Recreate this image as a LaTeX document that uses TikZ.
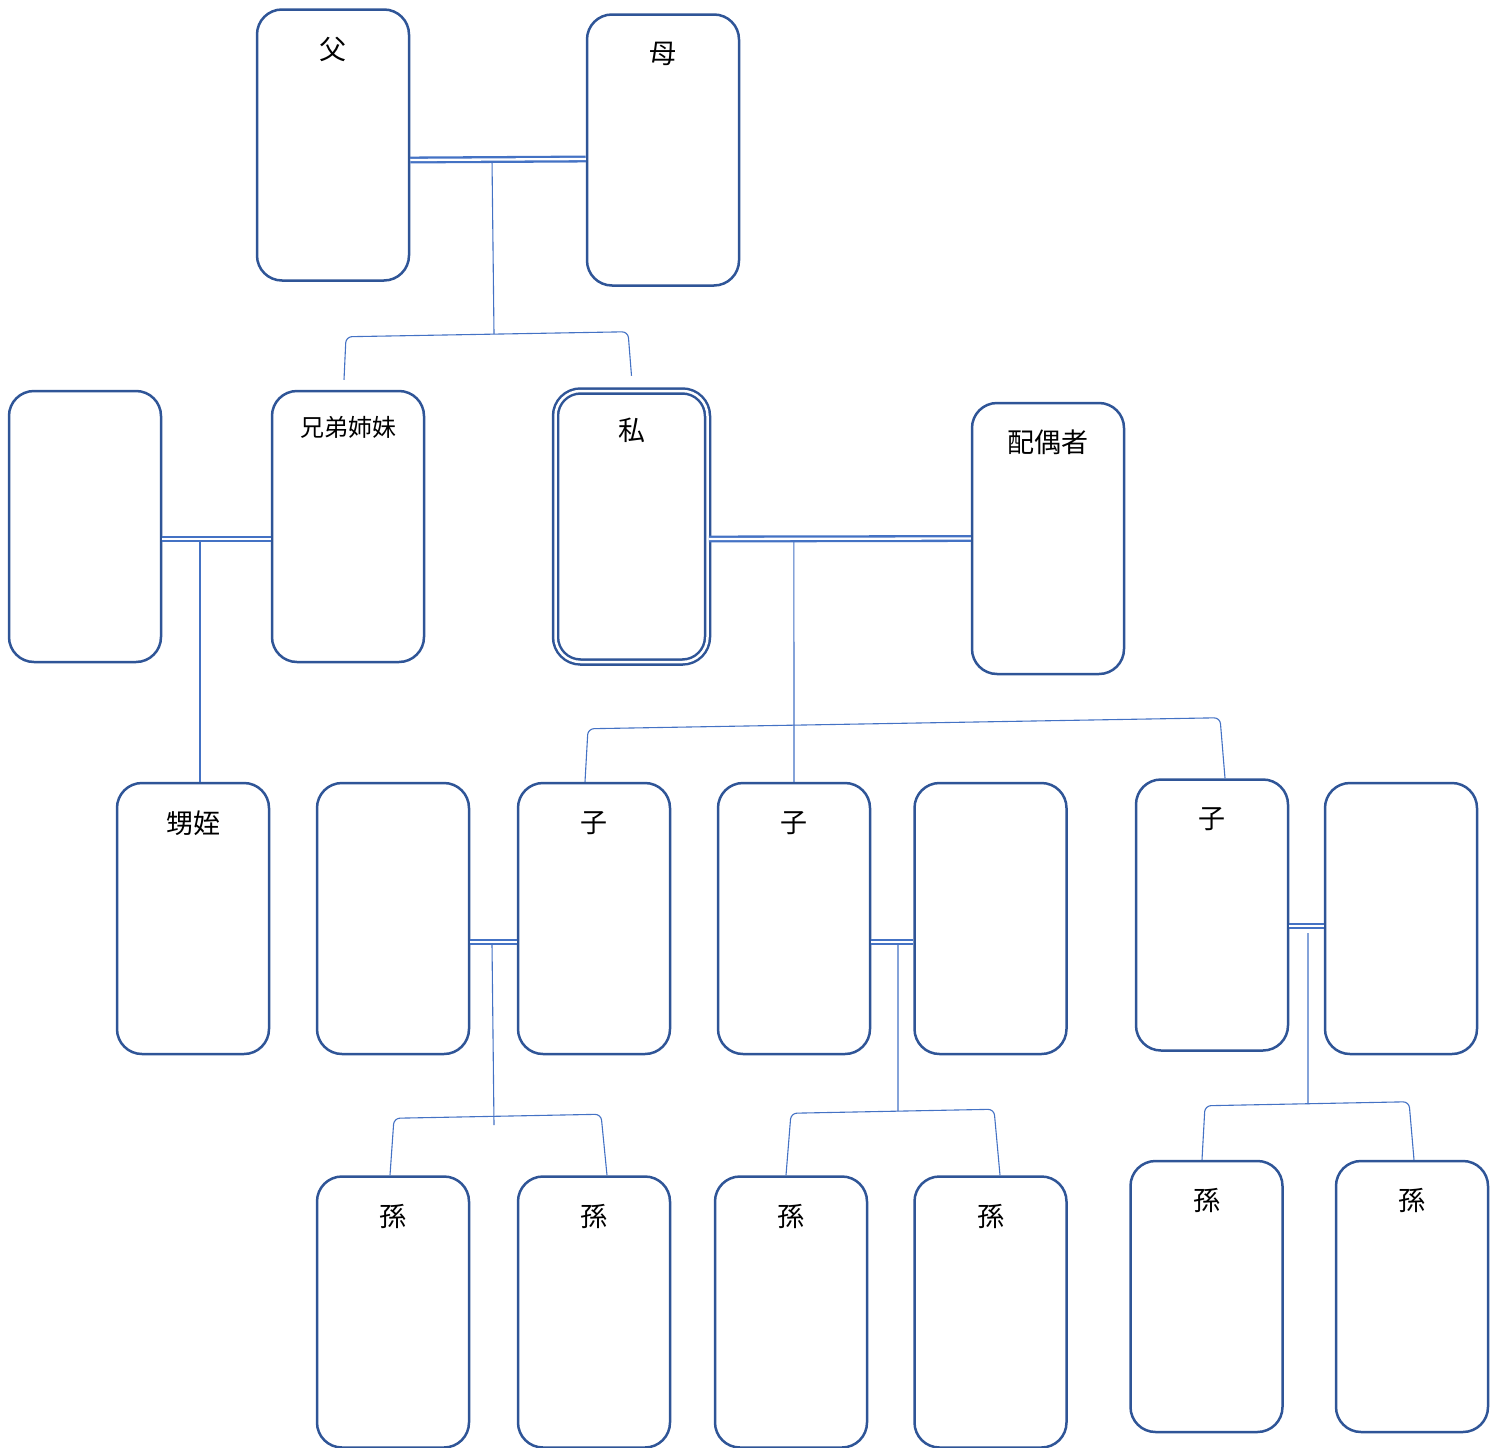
\documentclass[tikz,border=0pt]{standalone}
\usepackage{fontspec}
\setmainfont{Noto Sans CJK JP}
\definecolor{boxblue}{HTML}{2F5597}
\definecolor{lineblue}{HTML}{4472C4}
\newcommand\namesize{\fontsize{27pt}{31pt}\selectfont}
\tikzset{
  person/.style={draw=boxblue, line width=2.5pt, rounded corners=25pt,
    minimum width=152pt, minimum height=271pt, inner sep=0pt},
  who/.style={label={[anchor=center, yshift=-41pt, font=\namesize]north:#1}},
  marriage/.style={draw=lineblue, line width=2.3pt, double=white, double distance=2.3pt},
  link/.style={draw=lineblue, line width=1.1pt},
  bracket/.style={link, rounded corners=6pt},
}
\begin{document}
\begin{tikzpicture}[x=1pt, y=-1pt]
  \useasboundingbox (0,0) rectangle (1497,1448);

  % generation 1
  \node[person, who=父] (father) at (333,145) {};
  \node[person, who=母] (mother) at (663,150) {};

  % generation 2
  \node[person] (sibspouse) at (85,526.5) {};
  \node[person, label={[anchor=center, yshift=-38pt, font=\fontsize{24pt}{28pt}\selectfont]north:兄弟姉妹}] (sibling) at (348,526.5) {};
  \node[person, double=white, double distance=2.5pt, who=私] (me) at (631.5,526.5) {};
  \node[person, who=配偶者] (spouse) at (1048,538.5) {};

  % generation 3
  \node[person, who=甥姪] (nephew) at (193,918.5) {};
  \node[person] (inlaw1) at (393,918.5) {};
  \node[person, who=子] (child1) at (594,918.5) {};
  \node[person, who=子] (child2) at (794,918.5) {};
  \node[person] (inlaw2) at (990.5,918.5) {};
  \node[person, who=子] (child3) at (1212,915) {};
  \node[person] (inlaw3) at (1401,918.5) {};

  % generation 4
  \node[person, who=孫] (grand1) at (393,1312) {};
  \node[person, who=孫] (grand2) at (594,1312) {};
  \node[person, who=孫] (grand3) at (791,1312) {};
  \node[person, who=孫] (grand4) at (990.5,1312) {};
  \node[person, who=孫] (grand5) at (1206.5,1296.5) {};
  \node[person, who=孫] (grand6) at (1412,1296.5) {};

  % marriages
  \draw[marriage] ([yshift=-15pt]father.east) -- coordinate[pos=0.466] (pm) ([yshift=-9pt]mother.west);
  \draw[marriage] ([yshift=-12.5pt]sibspouse.east) -- coordinate[pos=0.348] (sm) ([yshift=-12.5pt]sibling.west);
  \draw[marriage] ([yshift=-12.5pt]me.east) -- coordinate[pos=0.325] (ms) (spouse.west);
  \draw[marriage] ([yshift=-23.5pt]inlaw1.east) -- coordinate[pos=0.468] (gm1) ([yshift=-23.5pt]child1.west);
  \draw[marriage] ([yshift=-23.5pt]child2.east) -- coordinate[pos=0.637] (gm2) ([yshift=-23.5pt]inlaw2.west);
  \draw[marriage] ([yshift=-11pt]child3.east) -- coordinate[pos=0.543] (gm3) ([yshift=-7.5pt]inlaw3.west);

  % descent lines
  \coordinate (pk) at (494,334);
  \coordinate (gk1) at (494,1125);
  \coordinate (gk2) at (898,1111);
  \coordinate (gk3) at (1308,1104);
  \draw[link] ([yshift=-3pt]pm) -- (pk);
  \draw[link] ([yshift=-3pt]sm) -- (sm |- nephew.north);
  \draw[link] ([yshift=-3pt]ms) -- (child2.north);
  \draw[link] ([yshift=-3pt]gm1) -- (gk1);
  \draw[link] ([yshift=-3pt]gm2) -- (gk2);
  \draw[link] ([yshift=-7pt]gm3) -- (gk3);

  \draw[bracket] ([xshift=-4pt, yshift=10pt]sibling.north) -- ++(2,-43) -- ++(282,-5) -- ([yshift=14pt]me.north);
  \draw[bracket] ([xshift=-9pt]child1.north) -- ++(3,-53) -- ++(632,-11) -- ([xshift=13pt]child3.north);
  \draw[bracket] ([xshift=-3pt]grand1.north) -- ++(4,-57) -- ++(207,-4) -- ([xshift=13pt]grand2.north);
  \draw[bracket] ([xshift=-5pt]grand3.north) -- ++(5,-62) -- ++(203,-4) -- ([xshift=9.5pt]grand4.north);
  \draw[bracket] ([xshift=-4.5pt]grand5.north) -- ++(3,-54) -- ++(204,-4) -- ([xshift=2pt]grand6.north);
\end{tikzpicture}
\end{document}
